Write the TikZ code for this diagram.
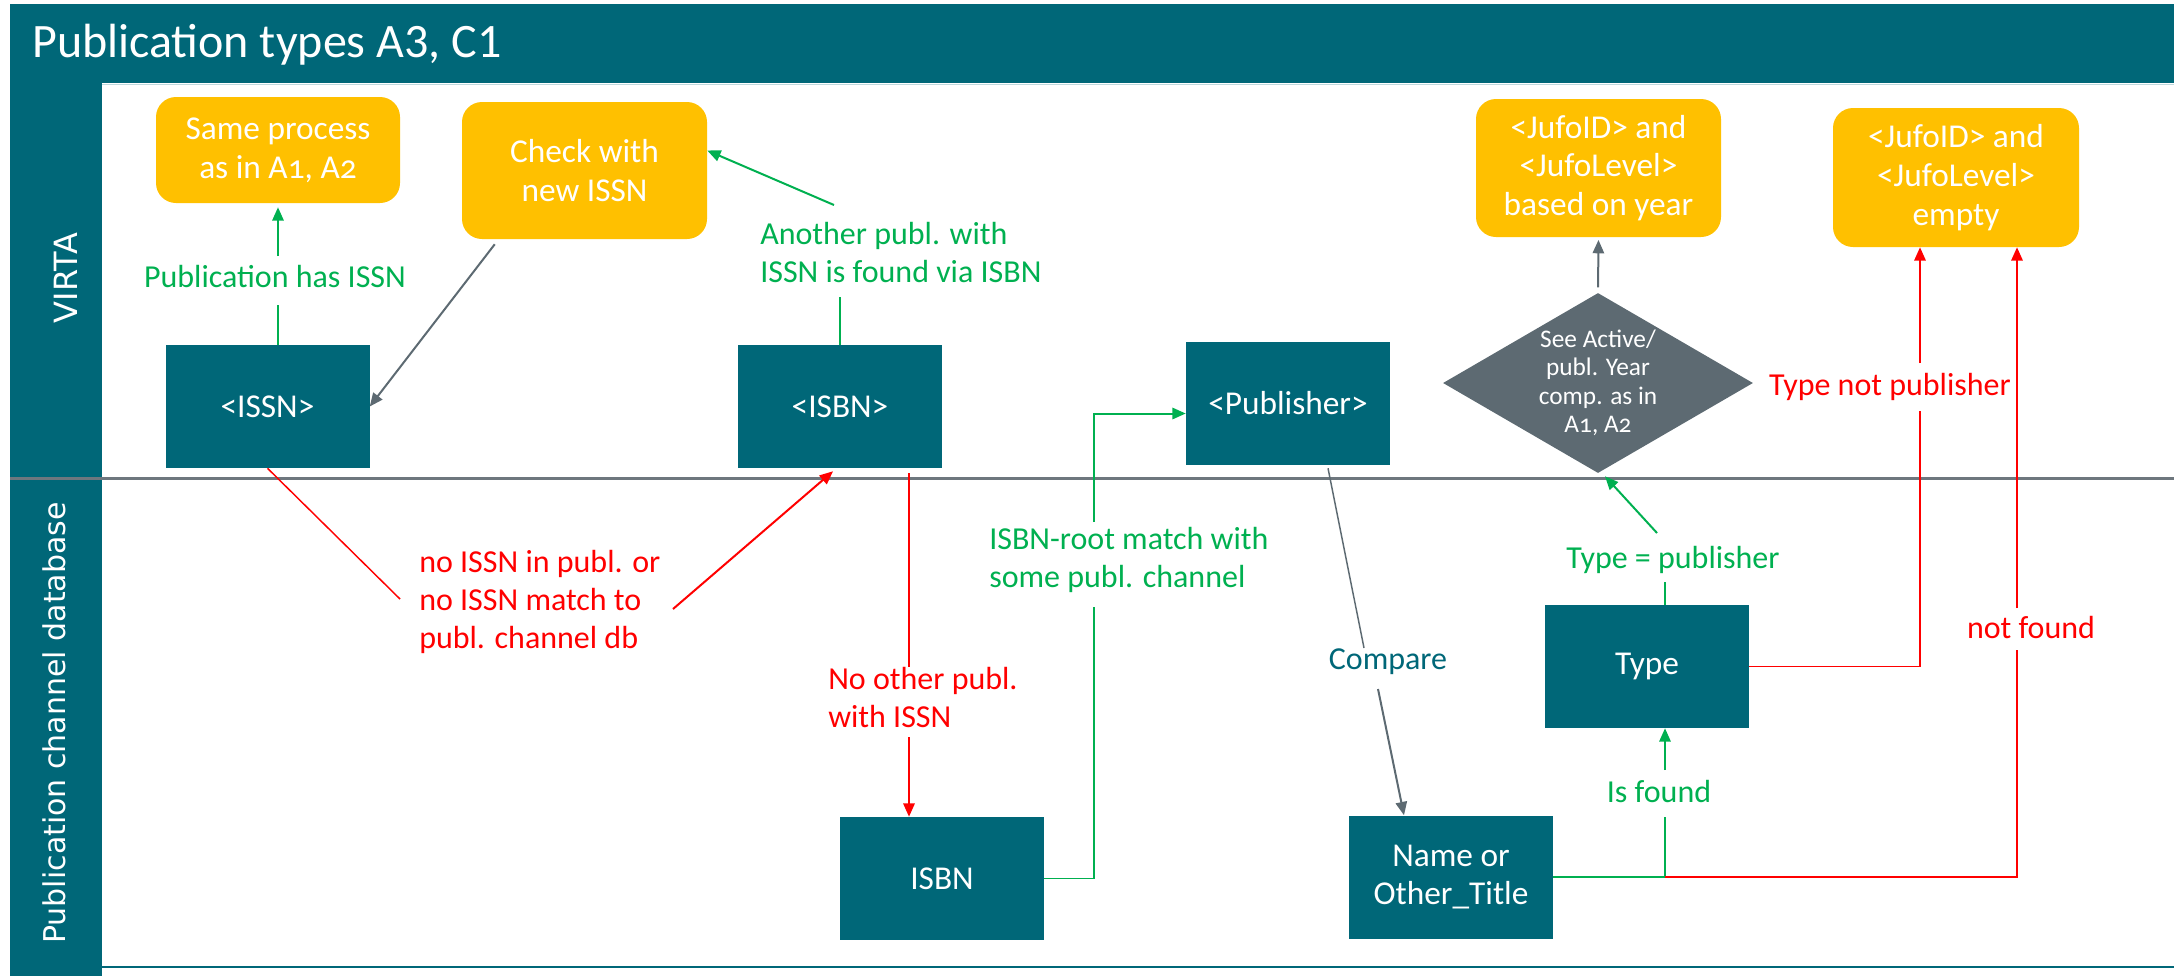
\documentclass[tikz,border=0pt]{standalone}
\usepackage{fontspec}
\setmainfont{Carlito}
\newfontfamily\lanefont{DejaVu Sans}
\usetikzlibrary{arrows.meta,shapes.geometric}
\definecolor{teal0}{HTML}{006778}
\definecolor{gold0}{HTML}{FFC000}
\definecolor{slate0}{HTML}{5D6A72}
\definecolor{green0}{HTML}{00B050}
\definecolor{red0}{HTML}{FF0000}
\definecolor{div0}{HTML}{6E777E}
\newcommand\TitleFnt{\fontsize{36}{40}\selectfont}
\newcommand\BoxFnt{\fontsize{25}{29}\selectfont}
\newcommand\LabFnt{\fontsize{24}{28.5}\selectfont}
\newcommand\DecFnt{\fontsize{19}{21.4}\selectfont}
\newcommand\OldNum{\addfontfeature{Numbers=OldStyle}}
\begin{document}
\begin{tikzpicture}[x=0.75pt,y=-0.75pt,
  tbox/.style={fill=teal0,text=white,font=\BoxFnt,align=center,inner sep=0pt,minimum width=153pt,minimum height=92.25pt},
  ybox/.style={fill=gold0,text=white,font=\BoxFnt,align=center,inner sep=0pt,rounded corners=15pt},
  lab/.style={font=\LabFnt,align=left,inner sep=0pt},
  lane/.style={rotate=90,anchor=base,text=white,inner sep=0pt},
  gline/.style={draw=green0,line width=1.1pt},
  garr/.style={draw=green0,line width=1.5pt,-{Triangle[length=10pt,width=8.5pt]}},
  rline/.style={draw=red0,line width=1.1pt},
  rarr/.style={draw=red0,line width=1.5pt,-{Triangle[length=10pt,width=8.5pt]}},
  sline/.style={draw=slate0,line width=1.1pt},
  sarr/.style={draw=slate0,line width=1.5pt,-{Triangle[length=10pt,width=8.5pt]}},
]
\useasboundingbox (0,0) rectangle (2174,976);
% frame
\fill[teal0] (10,4) rectangle (2174,83);
\fill[teal0] (10,83) rectangle (102,976);
\draw[teal0!25,line width=1pt] (102,84.5) -- (2174,84.5);
\draw[div0,line width=2.25pt] (10,478) -- (2174,478);
\draw[teal0,line width=1.5pt] (102,967) -- (2174,967);
\node[anchor=base west,text=white,font=\TitleFnt,inner sep=0pt] (title) at (32,57) {Publication types A3, C1};
\node[lane,font=\lanefont\fontsize{24}{28}\selectfont] (lanea) at (77,278) {VIRTA};
\node[lane,font=\lanefont\fontsize{22.5}{26}\selectfont] (laneb) at (65,723) {Publication channel database};

% yellow boxes
\node[ybox,minimum width=183pt,minimum height=79.5pt] (same) at (278,150) {Same process\\as in {\OldNum A1, A2}};
\node[ybox,minimum width=183.75pt,minimum height=102.75pt] (check) at (584.5,170.5) {Check with\\new ISSN};
\node[ybox,minimum width=183.75pt,minimum height=103.5pt] (jufoa) at (1598.5,168) {<JufoID> and\\<JufoLevel>\\based on year};
\node[ybox,minimum width=184.5pt,minimum height=104.25pt] (jufob) at (1956,177.5) {<JufoID> and\\<JufoLevel>\\empty};

% teal boxes
\node[tbox] (issn) at (267.5,406.5) {<ISSN>};
\node[tbox] (isbnv) at (840,406.5) {<ISBN>};
\node[tbox] (pub) at (1288,403.5) {<Publisher>};
\node[tbox] (type) at (1647,666.5) {Type};
\node[tbox] (isbnc) at (942,878.5) {ISBN};
\node[tbox] (name) at (1451,877) {Name or\\Other\_Title};

% decision
\node[diamond,fill=slate0,inner sep=0pt,minimum width=232.5pt,minimum height=135pt] (dec) at (1598,383) {};
\node[font=\DecFnt,text=white,align=center,inner sep=0pt] (dectxt) at (dec.center) {See Active/\\publ. Year\\comp. as in\\{\OldNum A1, A2}};

% 1 issn -> same
\node[lab,text=green0] (lab1) at (275,276) {Publication has ISSN};
\coordinate (p1) at (278,305);
\coordinate (p2) at (278,256);
\draw[gline] (issn.north -| same.south) -- (p1);
\draw[garr,shorten >=3pt] (p2) -- (same.south);

% 2 check -> issn
\draw[sarr] ([shift={(33,5)}]check.south west) -- (issn.east);

% 3 isbnv -> check
\node[lab,text=green0,anchor=west] (lab2) at (760,252) {Another publ. with\\ISSN is found via ISBN};
\coordinate (a1) at (840,297);
\coordinate (a2) at (834,205);
\draw[gline] (isbnv.north) -- (a1);
\draw[garr] (a2) -- ([shift={(0,-20)}]check.east);

% 4 issn -> isbnv
\node[lab,text=red0,anchor=west] (lab3) at (419,602) {no ISSN in publ. or\\no ISSN match to\\publ. channel db};
\coordinate (b1) at (400,599);
\coordinate (b2) at (673,609);
\draw[rline] (issn.south) -- (b1);
\draw[rarr] (b2) -- ([shift={(-7,3)}]isbnv.south);

% 5 isbnv -> isbnc
\node[lab,text=red0,anchor=west] (lab4) at (828,697) {No other publ.\\with ISSN};
\coordinate (c1) at (909,667);
\coordinate (c2) at (909,737);
\draw[rline] ([shift={(69,5)}]isbnv.south) -- (c1);
\draw[rarr] (c2) -- (c2 |- isbnc.north);

% 6 isbnc -> pub
\node[lab,text=green0,anchor=west] (lab5) at (989,560) {ISBN-root match with\\some publ. channel};
\coordinate (d1) at (1094,607);
\coordinate (d2) at (1094,522);
\draw[gline] (isbnc.east) -| (d1);
\draw[garr] (d2) |- ([shift={(0,10)}]pub.west);

% 7 pub -> name
\node[lab,text=teal0] (lab6) at (1388,662) {Compare};
\coordinate (k1) at (1364,648);
\coordinate (k2) at (1378,689);
\draw[sline] ([shift={(40,3)}]pub.south) -- (k1);
\draw[sarr] (k2) -- ([shift={(-47,0)}]name.north);

% 8 type -> dec
\node[lab,text=green0] (lab7) at (1673,560) {Type = publisher};
\coordinate (e1) at (1665,582);
\coordinate (e2) at (1657,533);
\draw[gline] ([shift={(18,0)}]type.north) -- (e1);
\draw[garr] (e2) -- ([shift={(7,3)}]dec.south);

% 9 dec -> jufoa
\draw[sarr,shorten <=4pt,shorten >=2pt] (dec.north) -- (jufoa.south);

% 10 name -> type
\node[lab,text=green0] (lab8) at (1659,791) {Is found};
\coordinate (f1) at (1665,817);
\coordinate (f2) at (1665,770);
\draw[gline] (name.east) -| (f1);
\draw[garr] (f2) -- (f2 |- type.south);

% 11 name -> jufob (not found)
\coordinate (jn) at (name.east -| f1);
\node[lab,text=red0] (lab9) at (2031,627) {not found};
\coordinate (g1) at (2017,650);
\coordinate (g2) at (2017,608);
\draw[rline] (jn) -| (g1);
\draw[rarr] (g2) -- (g2 |- jufob.south);

% 12 type -> jufob
\node[lab,text=red0] (lab10) at (1890,387) {Type not publisher};
\coordinate (h1) at (1920,411);
\coordinate (h2) at (1920,363);
\draw[rline] (type.east) -| (h1);
\draw[rarr] (h2) -- (h2 |- jufob.south);
\end{tikzpicture}
\end{document}
